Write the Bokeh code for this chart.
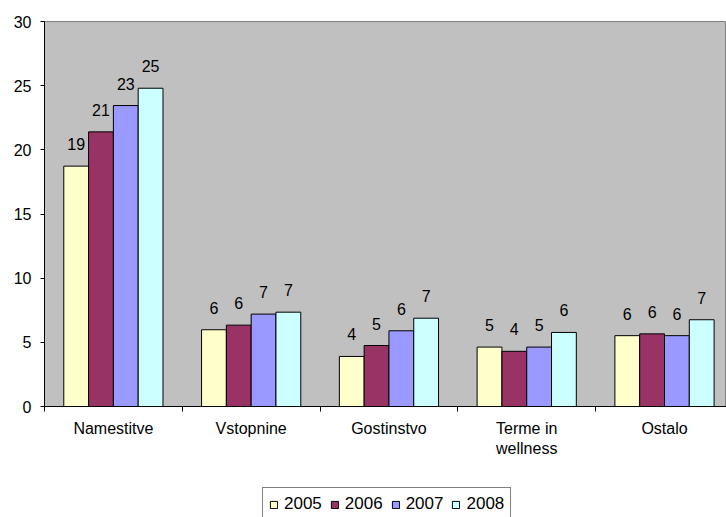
from bokeh.plotting import figure
from bokeh.models import ColumnDataSource, Range1d, FixedTicker, Legend, LegendItem
from bokeh.layouts import column
from bokeh.core.properties import value
from bokeh.embed import file_html
from bokeh.resources import INLINE

categories = ["Namestitve", "Vstopnine", "Gostinstvo", "Terme in\nwellness", "Ostalo"]
years = ["2005", "2006", "2007", "2008"]
v2005 = [18.73, 5.98, 3.90, 4.63, 5.52]
v2006 = [21.40, 6.34, 4.75, 4.30, 5.66]
v2007 = [23.45, 7.20, 5.90, 4.63, 5.52]
v2008 = [24.80, 7.35, 6.88, 5.77, 6.76]
series = [v2005, v2006, v2007, v2008]
colors = ["#FFFFCC", "#993366", "#9999FF", "#CCFFFF"]
y_ticks = [0, 5, 10, 15, 20, 25, 30]

FONT = "Liberation Sans"

p = figure(width=726, height=482, output_backend="svg", toolbar_location=None,
           x_range=Range1d(0, 4.95), y_range=Range1d(0, 30),
           min_border_left=44, min_border_top=21, min_border_right=0, min_border_bottom=76)
p.background_fill_color = "#C0C0C0"
p.border_fill_color = "white"
p.outline_line_color = "#808080"
p.xgrid.visible = False
p.ygrid.visible = False

bar_w = 0.18
offsets = [0.23, 0.41, 0.59, 0.77]
for k, (vals, col) in enumerate(zip(series, colors)):
    xs = [i + offsets[k] for i in range(len(categories))]
    src = ColumnDataSource(dict(x=xs, top=vals, lab=[str(int(v + 0.5)) for v in vals]))
    p.vbar(x="x", top="top", width=bar_w, bottom=0, source=src,
           fill_color=col, line_color="black", line_width=1)
    p.text(x="x", y="top", text="lab", source=src, text_align="center",
           text_baseline="alphabetic", y_offset=-22, text_font=value(FONT),
           text_font_size="16px", text_color="black")

# x axis
xa = p.xaxis[0]
xa.ticker = FixedTicker(ticks=[i + 0.5 for i in range(len(categories))],
                        minor_ticks=[i for i in range(len(categories) + 1)])
xa.major_label_overrides = {i + 0.5: c for i, c in enumerate(categories)}
xa.major_tick_line_color = None
xa.major_tick_out = 0
xa.major_tick_in = 0
xa.minor_tick_line_color = "black"
xa.minor_tick_out = 5
xa.minor_tick_in = 0
xa.major_label_standoff = 8
xa.major_label_text_font = FONT
xa.major_label_text_font_size = "16px"
xa.major_label_text_color = "black"
xa.axis_line_color = "black"

# y axis
ya = p.yaxis[0]
ya.ticker = FixedTicker(ticks=y_ticks)
ya.minor_tick_line_color = None
ya.major_tick_out = 4
ya.major_tick_in = 0
ya.major_tick_line_color = "black"
ya.major_label_standoff = 9
ya.major_label_text_font = FONT
ya.major_label_text_font_size = "16px"
ya.major_label_text_color = "black"
ya.axis_line_color = "black"

# legend strip (dummy renderers lie outside the visible range)
lf = figure(width=726, height=35, output_backend="svg", toolbar_location=None,
            x_range=Range1d(0, 1), y_range=Range1d(0, 1),
            x_axis_type=None, y_axis_type=None,
            min_border_left=0, min_border_top=0, min_border_right=0, min_border_bottom=0)
lf.outline_line_color = None
lf.background_fill_color = "white"
lf.border_fill_color = "white"
lf.xgrid.visible = False
lf.ygrid.visible = False
items = []
for col, yr in zip(colors, years):
    r = lf.vbar(x=[-5], top=[0], width=0.1, fill_color=col, line_color="black", line_width=1)
    items.append(LegendItem(label=yr, renderers=[r]))
legend = Legend(items=items, orientation="horizontal", location=(218, -4),
                glyph_width=9, glyph_height=9, label_standoff=6, spacing=8,
                padding=6, margin=0, label_height=20,
                label_text_font=FONT, label_text_font_size="17px", label_text_color="black",
                border_line_color="black", border_line_width=1,
                background_fill_color="white", background_fill_alpha=1.0)
lf.add_layout(legend, "center")

layout = column(p, lf, spacing=0)
open("out.html", "w").write(file_html(layout, INLINE))
